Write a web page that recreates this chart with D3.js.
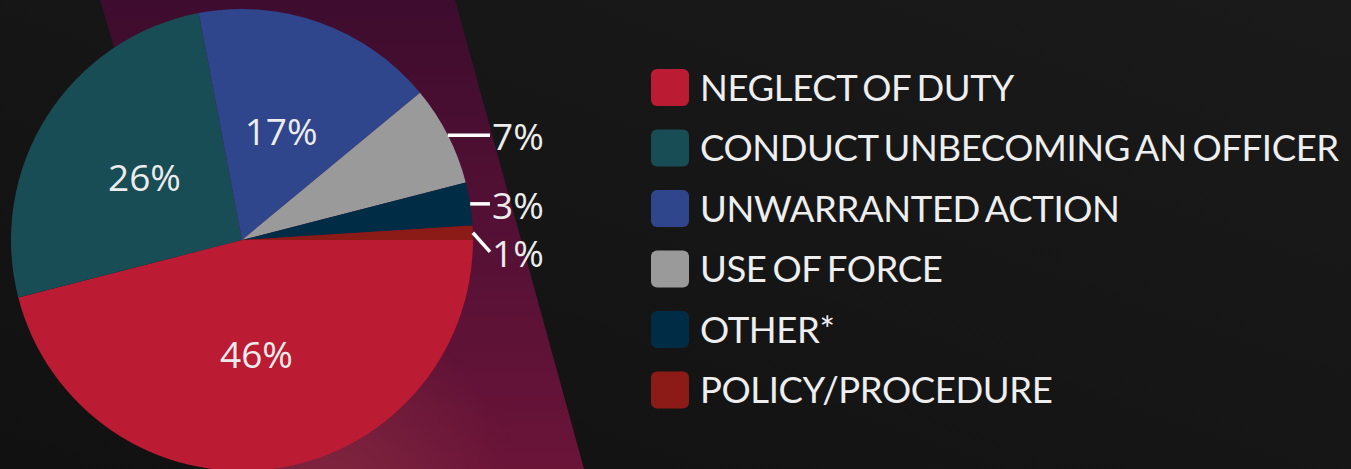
<!DOCTYPE html>
<html>
<head>
<meta charset="utf-8">
<script src="https://cdn.jsdelivr.net/npm/d3@7"></script>
<style>
  html, body { margin: 0; padding: 0; background: #141414; overflow: hidden; }
  svg { display: block; }
</style>
</head>
<body>
<script>
var width = 1351;
var height = 469;

// data
var categories = ["NEGLECT OF DUTY", "CONDUCT UNBECOMING AN OFFICER", "UNWARRANTED ACTION",
                  "USE OF FORCE", "OTHER*", "POLICY/PROCEDURE"];
var values = [46, 26, 17, 7, 3, 1];
var colors = ["#bb1b33", "#194d55", "#2f458c", "#9a9a9b", "#002c46", "#8c1b17"];

var cx = 242, cy = 240, radius = 231;

var svg = d3.select("body").append("svg")
    .attr("width", width)
    .attr("height", height);

var defs = svg.append("defs");

var bg = defs.append("linearGradient").attr("id", "bg")
    .attr("x1", 0).attr("y1", 1).attr("x2", 1).attr("y2", 0);
bg.append("stop").attr("offset", 0).attr("stop-color", "#111111");
bg.append("stop").attr("offset", 1).attr("stop-color", "#1a1a1a");

var band = defs.append("linearGradient").attr("id", "band")
    .attr("x1", 0).attr("y1", 0).attr("x2", 0).attr("y2", 1);
band.append("stop").attr("offset", 0).attr("stop-color", "#3d0c2e");
band.append("stop").attr("offset", 0.55).attr("stop-color", "#571135");
band.append("stop").attr("offset", 1).attr("stop-color", "#6a1438");

var glow = defs.append("radialGradient").attr("id", "glow")
    .attr("gradientUnits", "userSpaceOnUse")
    .attr("cx", 330).attr("cy", 490).attr("r", 180);
glow.append("stop").attr("offset", 0).attr("stop-color", "#862a40").attr("stop-opacity", 0.8);
glow.append("stop").attr("offset", 1).attr("stop-color", "#862a40").attr("stop-opacity", 0);

svg.append("rect")
    .attr("width", width)
    .attr("height", height)
    .attr("fill", "url(#bg)");

// diagonal band behind the pie
var bandPts = [[100, 0], [455, 0], [584, height], [241, height]];
svg.append("polygon")
    .attr("points", bandPts.map(function(p) { return p.join(","); }).join(" "))
    .attr("fill", "url(#band)");
svg.append("polygon")
    .attr("points", bandPts.map(function(p) { return p.join(","); }).join(" "))
    .attr("fill", "url(#glow)");

var data = categories.map(function(c, i) {
    return {name: c, value: values[i], color: colors[i]};
});

var pie = d3.pie()
    .sort(null)
    .value(function(d) { return d.value; })
    .startAngle(Math.PI / 2)
    .endAngle(Math.PI / 2 + 2 * Math.PI);

var arc = d3.arc().innerRadius(0).outerRadius(radius);

var arcs = pie(data);

var g = svg.append("g").attr("transform", "translate(" + cx + "," + cy + ")");

g.selectAll("path.slice").data(arcs).enter()
    .append("path")
    .classed("slice", true)
    .attr("d", arc)
    .attr("fill", function(d) { return d.data.color; });

// inside labels for big slices
var inside = arcs.filter(function(d) { return d.data.value >= 10; });
g.selectAll("text.inner").data(inside).enter()
    .append("text")
    .classed("inner", true)
    .attr("x", function(d) { return arc.centroid(d)[0]; })
    .attr("y", function(d) { return arc.centroid(d)[1]; })
    .attr("dy", "0.36em")
    .attr("text-anchor", "middle")
    .style("font-family", "'Open Sans', sans-serif")
    .style("font-size", "37px")
    .style("fill", "#ececec")
    .text(function(d) { return d.data.value + "%"; });

// outside labels for small slices, pushed down when they collide
var outside = arcs.filter(function(d) { return d.data.value < 10; });
var lineEnd = 248;
var lastY = -1000;
outside.forEach(function(d) {
    var a = (d.startAngle + d.endAngle) / 2;
    d.px = Math.sin(a) * radius;
    d.py = -Math.cos(a) * radius;
    d.ly = Math.max(d.py, lastY + 48);
    lastY = d.ly;
});

g.selectAll("line.leader").data(outside).enter()
    .append("line")
    .classed("leader", true)
    .attr("x1", function(d) { return d.px; })
    .attr("y1", function(d) { return d.py; })
    .attr("x2", lineEnd)
    .attr("y2", function(d) { return d.ly; })
    .style("stroke", "#ffffff")
    .style("stroke-width", 3.5);

g.selectAll("text.outer").data(outside).enter()
    .append("text")
    .classed("outer", true)
    .attr("x", lineEnd + 2)
    .attr("y", function(d) { return d.ly; })
    .attr("dy", "0.4em")
    .style("font-family", "'Open Sans', sans-serif")
    .style("font-size", "37px")
    .style("fill", "#ececec")
    .text(function(d) { return d.data.value + "%"; });

// legend
var legend = svg.append("g").attr("transform", "translate(651,69)");

var rows = legend.selectAll("g.row").data(data).enter()
    .append("g")
    .classed("row", true)
    .attr("transform", function(d, i) { return "translate(0," + (i * 60.5) + ")"; });

rows.append("rect")
    .attr("width", 38)
    .attr("height", 37)
    .attr("rx", 6)
    .attr("fill", function(d) { return d.color; });

rows.append("text")
    .attr("x", 49)
    .attr("y", 18.5)
    .attr("dy", "0.36em")
    .style("font-family", "Lato, sans-serif")
    .style("font-size", "36.5px")
    .style("letter-spacing", "-0.4px")
    .style("word-spacing", "-3px")
    .style("fill", "#eeeeee")
    .text(function(d) { return d.name; });
</script>
</body>
</html>
